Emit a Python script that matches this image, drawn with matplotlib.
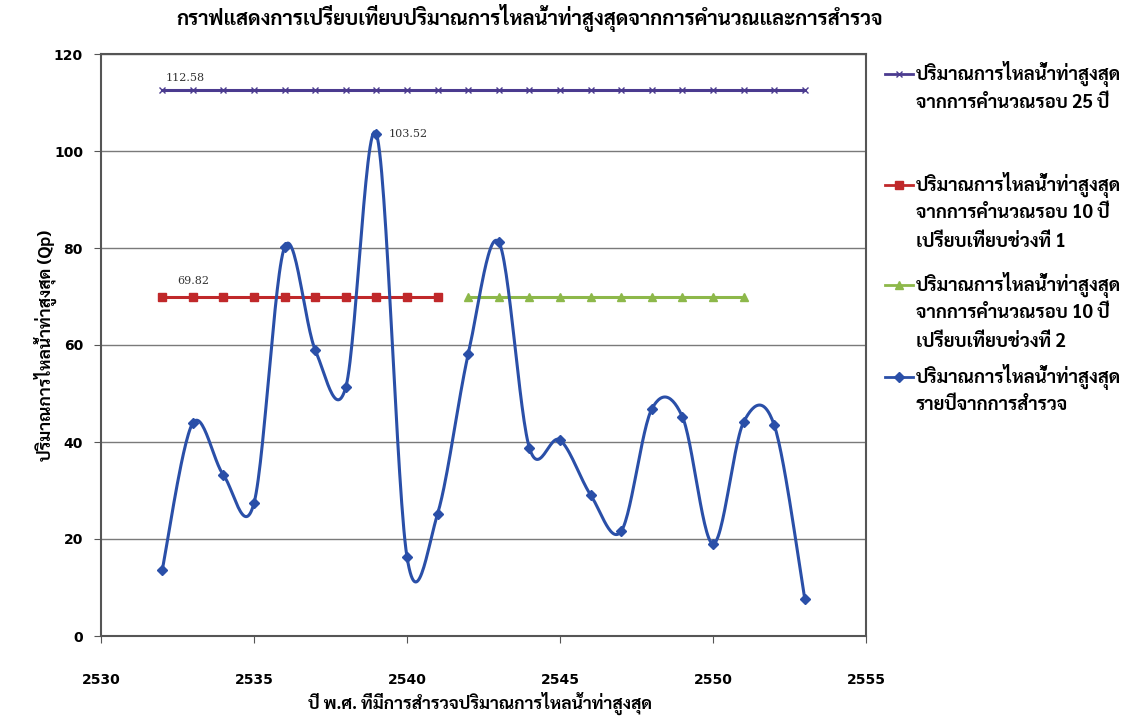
import numpy as np
import matplotlib
matplotlib.use("Agg")
import matplotlib.pyplot as plt
from matplotlib import font_manager
from matplotlib.lines import Line2D

# pick an installed Thai font, preferring one with a bold face
fonts = font_manager.fontManager.ttflist
thai_font = "DejaVu Sans"
for cand in ["Noto Sans Thai Looped", "Noto Sans Thai", "Sarabun", "IBM Plex Sans Thai",
             "Bai Jamjuree", "Prompt", "Kanit", "Athiti"]:
    if any(f.name == cand and f.weight in (700, "bold") for f in fonts):
        thai_font = cand
        break
plt.rcParams['font.family'] = [thai_font, 'DejaVu Sans']

# data
years = [2532, 2533, 2534, 2535, 2536, 2537, 2538, 2539, 2540, 2541, 2542,
         2543, 2544, 2545, 2546, 2547, 2548, 2549, 2550, 2551, 2552, 2553]
qp_survey = [13.6, 43.9, 33.2, 27.4, 80.2, 59.0, 51.3, 103.52, 16.3, 25.2, 58.1,
             81.2, 38.8, 40.4, 29.1, 21.6, 46.8, 45.2, 19.0, 44.1, 43.5, 7.6]
years_25 = list(range(2532, 2554))
qp_25 = [112.58] * len(years_25)
years_10a = list(range(2532, 2542))
qp_10a = [69.82] * len(years_10a)
years_10b = list(range(2542, 2552))
qp_10b = [69.82] * len(years_10b)

title = "กราฟแสดงการเปรียบเทียบปริมาณการไหลน้ำท่าสูงสุดจากการคำนวณและการสำรวจ"
xlabel = "ปี พ.ศ. ที่มีการสำรวจปริมาณการไหลน้ำท่าสูงสุด"
ylabel = "ปริมาณการไหลน้ำท่าสูงสุด (Qp)"
labels = [["ปริมาณการไหลน้ำท่าสูงสุด", "จากการคำนวณรอบ 25 ปี"],
          ["ปริมาณการไหลน้ำท่าสูงสุด", "จากการคำนวณรอบ 10 ปี", "เปรียบเทียบช่วงที่ 1"],
          ["ปริมาณการไหลน้ำท่าสูงสุด", "จากการคำนวณรอบ 10 ปี", "เปรียบเทียบช่วงที่ 2"],
          ["ปริมาณการไหลน้ำท่าสูงสุด", "รายปีจากการสำรวจ"]]

c_purple = "#4B3B8F"
c_red = "#C0282A"
c_green = "#8DB84A"
c_blue = "#2A4FA8"


def smooth(x, y, n=30):
    # excel-like bezier smoothing through the points
    x = np.asarray(x, float)
    y = np.asarray(y, float)
    px = np.concatenate([[x[0]], x, [x[-1]]])
    py = np.concatenate([[y[0]], y, [y[-1]]])
    xs, ys = [], []
    t = np.linspace(0, 1, n)
    for i in range(1, len(px) - 2):
        p0 = np.array([px[i], py[i]])
        p3 = np.array([px[i + 1], py[i + 1]])
        p1 = p0 + (p3 - np.array([px[i - 1], py[i - 1]])) / 6
        p2 = p3 - (np.array([px[i + 2], py[i + 2]]) - p0) / 6
        b = ((1 - t) ** 3)[:, None] * p0 + (3 * (1 - t) ** 2 * t)[:, None] * p1 \
            + (3 * (1 - t) * t ** 2)[:, None] * p2 + (t ** 3)[:, None] * p3
        xs.extend(b[:, 0])
        ys.extend(b[:, 1])
    return xs, ys


W, H = 1136, 722
fig = plt.figure(figsize=(W / 100, H / 100), dpi=100)
ax = fig.add_axes([101 / W, 1 - 636 / H, 765 / W, 582 / H])

ax.plot(years_25, qp_25, color=c_purple, lw=2.2, marker="x", ms=5, mew=1, zorder=3)
ax.plot(years_10a, qp_10a, color=c_red, lw=2.2, marker="s", ms=6, zorder=3)
ax.plot(years_10b, qp_10b, color=c_green, lw=2.2, marker="^", ms=6, zorder=3)
sx, sy = smooth(years, qp_survey)
ax.plot(sx, sy, color=c_blue, lw=2.2, zorder=4)
ax.plot(years, qp_survey, ls="none", color=c_blue, marker="D", ms=5, zorder=5)

ax.text(2532.1, 114.5, "112.58", fontsize=8, family="DejaVu Serif", color="#333333")
ax.text(2539.4, 103.5, "103.52", fontsize=8, family="DejaVu Serif", color="#333333", va="center")
ax.text(2532.5, 72.5, "69.82", fontsize=8, family="DejaVu Serif", color="#333333")

ax.set_xlim(2530, 2555)
ax.set_ylim(0, 120)
ax.set_xticks(range(2530, 2556, 5))
ax.set_yticks(range(0, 121, 20))
ax.yaxis.grid(True, color="#7a7a7a", lw=1)
ax.set_axisbelow(True)
for s in ax.spines.values():
    s.set_color("#555555")
    s.set_linewidth(1.5)
ax.tick_params(direction="out", length=5, color="#555555", labelsize=10, pad=8)
for lab in ax.get_xticklabels() + ax.get_yticklabels():
    lab.set_fontweight("bold")
    lab.set_family("DejaVu Sans")
ax.tick_params(axis="x", pad=22)

fig.text(530 / W, 1 - 18 / H, title, ha="center", va="center", fontsize=14.6, fontweight="bold")
fig.text(480 / W, 1 - 703 / H, xlabel, ha="center", va="center", fontsize=12.5, fontweight="bold")
fig.text(45 / W, 1 - 345 / H, ylabel, ha="center", va="center", rotation=90,
         fontsize=12.5, fontweight="bold")

# legend drawn by hand so the key sits on the first text line, as in the original
handles = [dict(color=c_purple, marker="x", ms=5, mew=1),
           dict(color=c_red, marker="s", ms=6),
           dict(color=c_green, marker="^", ms=6),
           dict(color=c_blue, marker="D", ms=5)]
entry_top = [74, 185, 285, 377]
pitch = 28.5
for h, lines, y0 in zip(handles, labels, entry_top):
    yf = 1 - y0 / H
    fig.add_artist(Line2D([885 / W, 913 / W], [yf, yf], lw=2, color=h["color"],
                          transform=fig.transFigure))
    fig.add_artist(Line2D([899 / W], [yf], ls="none", transform=fig.transFigure, **h))
    for k, line in enumerate(lines):
        fig.text(916 / W, 1 - (y0 + k * pitch) / H, line, ha="left", va="center",
                 fontsize=13.3, fontweight="bold")

fig.savefig("out.png", dpi=100)
